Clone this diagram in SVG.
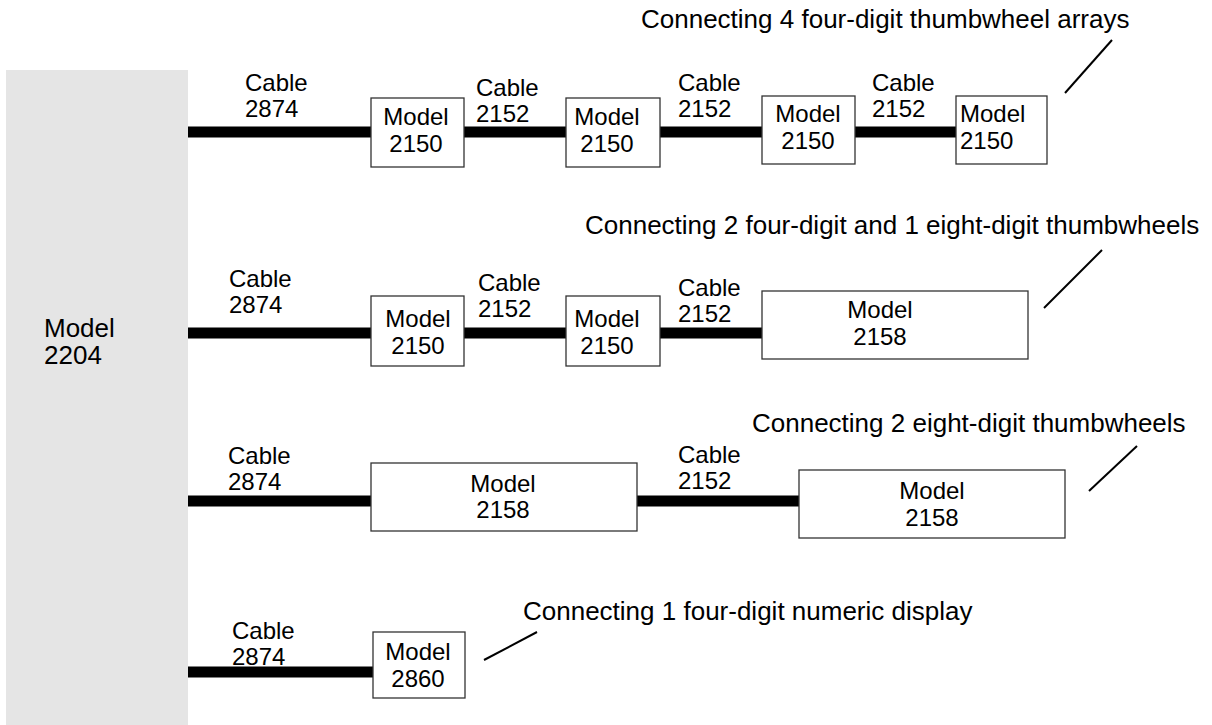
<svg xmlns="http://www.w3.org/2000/svg" width="1212" height="725" viewBox="0 0 1212 725">
<style>
text{font-family:"Liberation Sans",Arial,sans-serif;fill:#000}
.l{font-size:24px}
.a{font-size:26px}
.m{font-size:24px;text-anchor:middle}
.box{fill:#fff;stroke:#333;stroke-width:1.3}
.cab{stroke:#000;stroke-width:11;fill:none}
.lead{stroke:#000;stroke-width:2;fill:none}
</style>
<rect width="1212" height="725" fill="#fff"/>
<g id="model2204">
<rect x="6" y="70" width="182" height="655" fill="#e5e5e5"/>
<text class="a" x="44" y="337">Model</text>
<text class="a" x="44" y="364">2204</text>
</g>
<g id="connectors">
<line class="cab" x1="188" y1="132" x2="371" y2="132"/>
<line class="cab" x1="464" y1="132" x2="566" y2="132"/>
<line class="cab" x1="660" y1="132" x2="762" y2="132"/>
<line class="cab" x1="855" y1="132" x2="956" y2="132"/>
<line class="cab" x1="188" y1="333" x2="371" y2="333"/>
<line class="cab" x1="464" y1="333" x2="566" y2="333"/>
<line class="cab" x1="660" y1="333" x2="762" y2="333"/>
<line class="cab" x1="188" y1="501" x2="371" y2="501"/>
<line class="cab" x1="637" y1="501" x2="799" y2="501"/>
<line class="cab" x1="188" y1="672" x2="373" y2="672"/>
<line class="lead" x1="1112" y1="40" x2="1065" y2="93"/>
<line class="lead" x1="1102" y1="250" x2="1044" y2="308"/>
<line class="lead" x1="1137" y1="446" x2="1089" y2="491"/>
<line class="lead" x1="537" y1="632" x2="484" y2="660"/>
</g>
<g id="cable-labels">
<text class="l" x="245" y="91">Cable</text><text class="l" x="245" y="117">2874</text>
<text class="l" x="476" y="96">Cable</text><text class="l" x="476" y="122">2152</text>
<text class="l" x="678" y="91">Cable</text><text class="l" x="678" y="117">2152</text>
<text class="l" x="872" y="91">Cable</text><text class="l" x="872" y="117">2152</text>
<text class="l" x="229" y="287">Cable</text><text class="l" x="229" y="313">2874</text>
<text class="l" x="478" y="291">Cable</text><text class="l" x="478" y="317">2152</text>
<text class="l" x="678" y="296">Cable</text><text class="l" x="678" y="322">2152</text>
<text class="l" x="228" y="464">Cable</text><text class="l" x="228" y="490">2874</text>
<text class="l" x="678" y="463">Cable</text><text class="l" x="678" y="489">2152</text>
<text class="l" x="232" y="639">Cable</text><text class="l" x="232" y="665">2874</text>
</g>
<g id="annotations">
<text class="a" x="641" y="28">Connecting 4 four-digit thumbwheel arrays</text>
<text class="a" x="585" y="234">Connecting 2 four-digit and 1 eight-digit thumbwheels</text>
<text class="a" x="752" y="432">Connecting 2 eight-digit thumbwheels</text>
<text class="a" x="523" y="620">Connecting 1 four-digit numeric display</text>
</g>
<g id="r1-m1"><rect class="box" x="371" y="98" width="93" height="69"/><text class="m" x="416" y="125">Model</text><text class="m" x="416" y="152">2150</text></g>
<g id="r1-m2"><rect class="box" x="566" y="98" width="94" height="69"/><text class="m" x="607" y="125">Model</text><text class="m" x="607" y="152">2150</text></g>
<g id="r1-m3"><rect class="box" x="762" y="96" width="93" height="68"/><text class="m" x="808" y="122">Model</text><text class="m" x="808" y="149">2150</text></g>
<g id="r1-m4"><rect class="box" x="956" y="96" width="91" height="68"/><text class="l" x="960" y="122">Model</text><text class="l" x="960" y="149">2150</text></g>
<g id="r2-m1"><rect class="box" x="371" y="296" width="93" height="70"/><text class="m" x="418" y="327">Model</text><text class="m" x="418" y="354">2150</text></g>
<g id="r2-m2"><rect class="box" x="566" y="296" width="94" height="70"/><text class="m" x="607" y="327">Model</text><text class="m" x="607" y="354">2150</text></g>
<g id="r2-m3"><rect class="box" x="762" y="291" width="266" height="68"/><text class="m" x="880" y="318">Model</text><text class="m" x="880" y="345">2158</text></g>
<g id="r3-m1"><rect class="box" x="371" y="463" width="266" height="68"/><text class="m" x="503" y="492">Model</text><text class="m" x="503" y="518">2158</text></g>
<g id="r3-m2"><rect class="box" x="799" y="470" width="266" height="68"/><text class="m" x="932" y="499">Model</text><text class="m" x="932" y="526">2158</text></g>
<g id="r4-m1"><rect class="box" x="373" y="632" width="92" height="66"/><text class="m" x="418" y="660">Model</text><text class="m" x="418" y="687">2860</text></g>
</svg>
